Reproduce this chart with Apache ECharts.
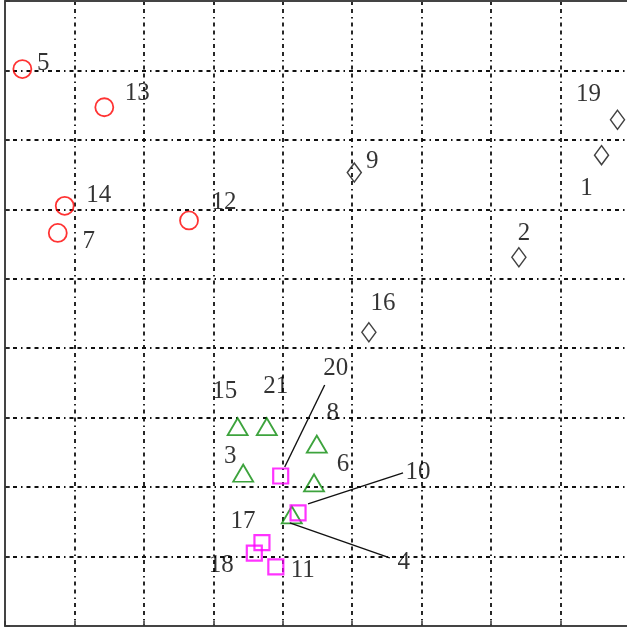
<!DOCTYPE html>
<html>
<head>
<meta charset="utf-8">
<style>
  html, body { margin: 0; padding: 0; background: #fff; overflow: hidden; }
  #chart { width: 627px; height: 628px; }
</style>
<script src="https://cdn.jsdelivr.net/npm/echarts@6/dist/echarts.min.js"></script>
</head>
<body>
<div id="chart"></div>
<script>
// Sample groups: ids and coordinates in axis units
const circleIds = ['5', '13', '14', '7', '12'];
const circleX = [0.25, 1.43, 0.86, 0.76, 2.65];
const circleY = [8.02, 7.47, 6.05, 5.66, 5.84];

const diamondIds = ['19', '1', '2', '9', '16'];
const diamondX = [8.82, 8.59, 7.40, 5.03, 5.24];
const diamondY = [7.29, 6.78, 5.31, 6.53, 4.23];

const triangleIds = ['15', '21', '8', '3', '6', '4'];
const triangleX = [3.35, 3.77, 4.49, 3.43, 4.45, 4.13];
const triangleY = [2.87, 2.87, 2.62, 2.20, 2.06, 1.60];

const squareIds = ['20', '10', '17', '18', '11'];
const squareX = [3.97, 4.22, 3.70, 3.59, 3.90];
const squareY = [2.16, 1.63, 1.20, 1.05, 0.85];

// Axis range and tick step
const axisMin = 0;
const axisMax = 9;
const axisStep = 1;

// Label placement (pixels from the marker centre)
const labelOffset = {
  '5': [21, -6], '13': [33, -14], '14': [34, -10], '7': [31, 8], '12': [35, -18],
  '19': [-29, -25], '1': [-15, 33], '2': [5, -24], '9': [18, -11], '16': [14, -29],
  '15': [-13, -35], '21': [9, -40], '8': [16, -31], '3': [-13, -17], '6': [29, -19], '4': [112, 48],
  '20': [55, -108], '10': [120, -40], '17': [-19, -21], '18': [-33, 12], '11': [27, 3]
};
// Leader lines: start and end, pixels from the marker centre
const leaders = {
  '20': [[4, -9], [44, -91]],
  '10': [[10, -9], [105, -40]],
  '4': [[-2, 8], [98, 43]]
};

function points(ids, xs, ys) {
  return ids.map((id, i) => ({
    name: id,
    value: [xs[i], ys[i]],
    label: { offset: labelOffset[id] }
  }));
}

const labelStyle = {
  show: true,
  position: 'inside',
  formatter: '{b}',
  fontFamily: '"Liberation Serif", "Times New Roman", serif',
  fontSize: 25,
  color: '#000',
  align: 'center',
  verticalAlign: 'middle'
};

const gridLine = {
  show: true,
  showMinLine: false,
  showMaxLine: false,
  lineStyle: { color: '#111', width: 1.8, type: [4, 4, 4, 4, 1.5, 4] }
};

const frameLine = { show: true, lineStyle: { color: '#444', width: 2 } };

const axisCommon = {
  type: 'value',
  min: axisMin,
  max: axisMax,
  interval: axisStep,
  axisLabel: { show: false },
  axisLine: frameLine,
  axisTick: { show: true, inside: true, length: 5, lineStyle: { color: '#333', width: 1.5 } },
  splitLine: gridLine
};

const chart = echarts.init(document.getElementById('chart'));
chart.setOption({
  animation: false,
  grid: { left: 5, top: 1, width: 625, height: 625, outerBoundsMode: 'none' },
  xAxis: [
    Object.assign({}, axisCommon, { position: 'bottom' }),
    // top edge of the frame
    { type: 'value', position: 'top', min: axisMin, max: axisMax, interval: axisStep,
      axisLine: frameLine, axisTick: { show: false }, axisLabel: { show: false }, splitLine: { show: false } }
  ],
  yAxis: Object.assign({}, axisCommon, { position: 'left' }),
  series: [
    {
      type: 'scatter', symbol: 'circle', symbolSize: 18, z: 3,
      itemStyle: { color: 'rgba(0,0,0,0)', borderColor: '#ff0000', borderWidth: 1.8 },
      label: labelStyle,
      data: points(circleIds, circleX, circleY)
    },
    {
      type: 'scatter', symbol: 'diamond', symbolSize: [14, 19], z: 3,
      itemStyle: { color: 'rgba(0,0,0,0)', borderColor: '#111', borderWidth: 1.5 },
      label: labelStyle,
      data: points(diamondIds, diamondX, diamondY)
    },
    {
      type: 'scatter', symbol: 'triangle', symbolSize: [20, 17], z: 3,
      itemStyle: { color: 'rgba(0,0,0,0)', borderColor: '#0c8c0c', borderWidth: 1.8 },
      label: labelStyle,
      data: points(triangleIds, triangleX, triangleY)
    },
    {
      type: 'scatter', symbol: 'rect', symbolSize: 15, z: 4,
      itemStyle: { color: 'rgba(0,0,0,0)', borderColor: '#ff00ff', borderWidth: 2.2 },
      label: labelStyle,
      data: points(squareIds, squareX, squareY)
    }
  ]
});

// Leader lines from the marker to its distant label
const coordsById = {};
[[circleIds, circleX, circleY], [diamondIds, diamondX, diamondY],
 [triangleIds, triangleX, triangleY], [squareIds, squareX, squareY]].forEach(([ids, xs, ys]) => {
  ids.forEach((id, i) => { coordsById[id] = [xs[i], ys[i]]; });
});
const leaderGraphics = Object.keys(leaders).map(id => {
  const p = chart.convertToPixel({ gridIndex: 0 }, coordsById[id]);
  const [s, e] = leaders[id];
  return {
    type: 'line', z: 5,
    shape: { x1: p[0] + s[0], y1: p[1] + s[1], x2: p[0] + e[0], y2: p[1] + e[1] },
    style: { stroke: '#111', lineWidth: 1.4 }
  };
});
chart.setOption({ graphic: leaderGraphics });
</script>
</body>
</html>
